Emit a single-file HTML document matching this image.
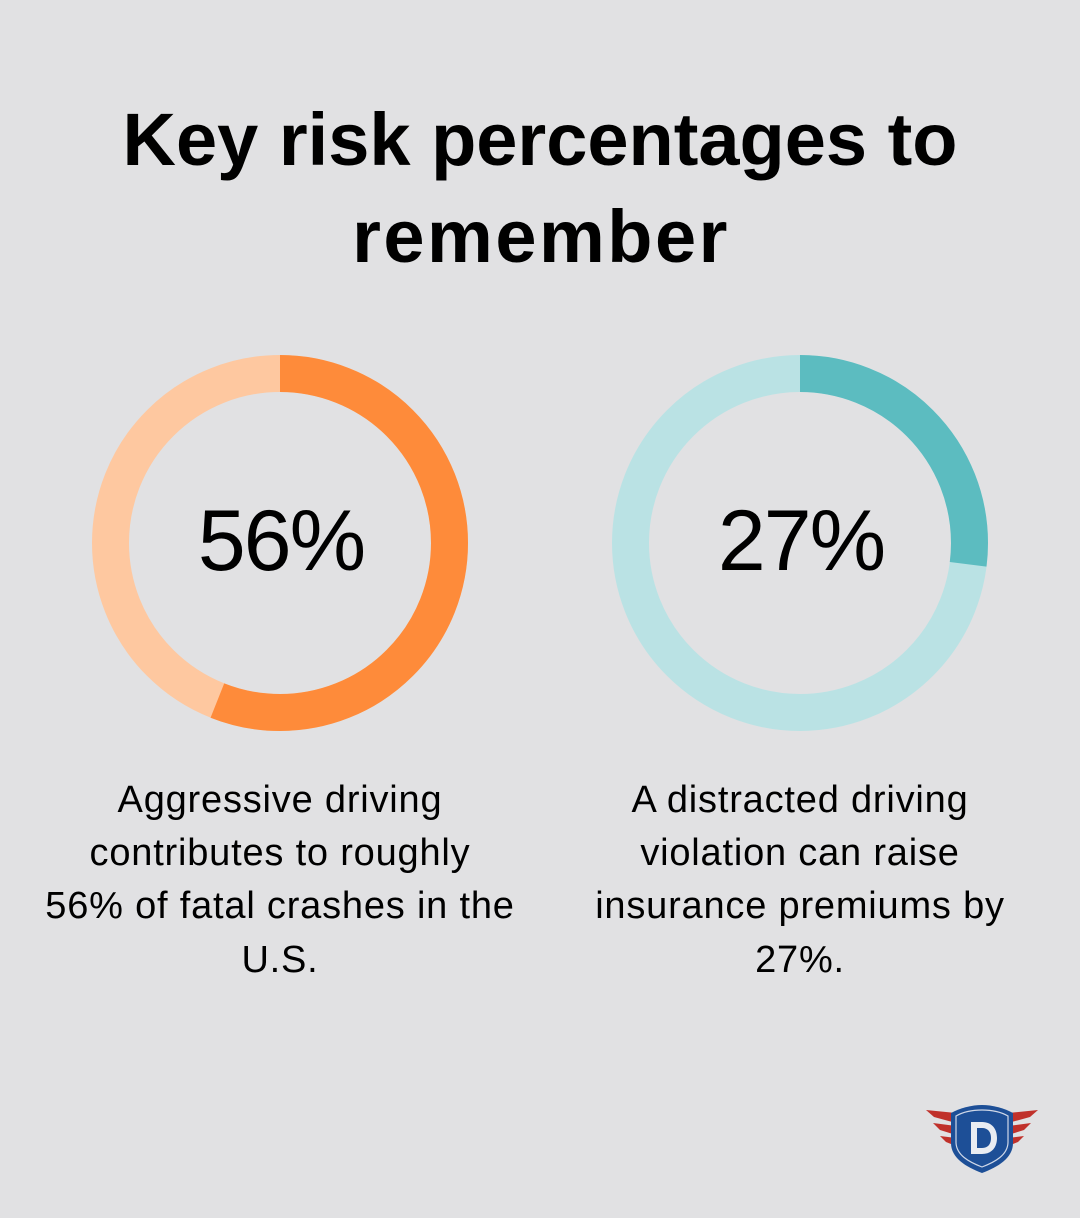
<!DOCTYPE html>
<html>
<head>
<meta charset="utf-8">
<style>
  html, body { margin:0; padding:0; background:#e1e1e3; }
  body { width:1080px; height:1218px; overflow:hidden; }
  svg { display:block; }
  .t { font-family:"Liberation Sans", sans-serif; fill:#000; }
</style>
</head>
<body>
<svg width="1080" height="1218" viewBox="0 0 1080 1218" xmlns="http://www.w3.org/2000/svg">
  <rect x="0" y="0" width="1080" height="1218" fill="#e1e1e3"/>

  <!-- Title -->
  <text class="t" x="540" y="165" text-anchor="middle" font-size="74" font-weight="bold">Key risk percentages to</text>
  <text class="t" x="541" y="262" text-anchor="middle" font-size="74" font-weight="bold" letter-spacing="2.5">remember</text>

  <!-- Donut 1 -->
  <g transform="translate(280,543) rotate(-90)">
    <circle r="169.5" fill="none" stroke="#fec8a0" stroke-width="37"/>
    <circle r="169.5" fill="none" stroke="#fe8b3a" stroke-width="37" stroke-dasharray="596.4 2000"/>
  </g>
  <text class="t" x="281" y="570" text-anchor="middle" font-size="86" letter-spacing="-2">56%</text>

  <!-- Donut 2 -->
  <g transform="translate(800,543) rotate(-90)">
    <circle r="169.5" fill="none" stroke="#bae2e4" stroke-width="37"/>
    <circle r="169.5" fill="none" stroke="#5cbcc0" stroke-width="37" stroke-dasharray="287.6 2000"/>
  </g>
  <text class="t" x="801" y="570" text-anchor="middle" font-size="86" letter-spacing="-2">27%</text>

  <!-- Left body text -->
  <g font-size="38" letter-spacing="0.8" text-anchor="middle">
    <text class="t" x="280" y="812" fill="#1a1a1a">Aggressive driving</text>
    <text class="t" x="280" y="865" fill="#1a1a1a">contributes to roughly</text>
    <text class="t" x="280" y="918" fill="#1a1a1a">56% of fatal crashes in the</text>
    <text class="t" x="280" y="972" fill="#1a1a1a">U.S.</text>
  </g>

  <!-- Right body text -->
  <g font-size="38" letter-spacing="0.8" text-anchor="middle">
    <text class="t" x="800" y="812" fill="#1a1a1a">A distracted driving</text>
    <text class="t" x="800" y="865" fill="#1a1a1a">violation can raise</text>
    <text class="t" x="800" y="918" fill="#1a1a1a">insurance premiums by</text>
    <text class="t" x="800" y="972" fill="#1a1a1a">27%.</text>
  </g>

  <!-- Logo -->
  <g>
    <!-- left wings -->
    <path d="M926,1110 L956,1113 L956,1123 L934,1117 Z" fill="#c0312b"/>
    <path d="M933,1123 L956,1126 L956,1135 L940,1130 Z" fill="#c0312b"/>
    <path d="M940,1136 L956,1138 L956,1146 L946,1142 Z" fill="#c0312b"/>
    <!-- right wings -->
    <path d="M1038,1110 L1008,1113 L1008,1123 L1030,1117 Z" fill="#c0312b"/>
    <path d="M1031,1123 L1008,1126 L1008,1135 L1024,1130 Z" fill="#c0312b"/>
    <path d="M1024,1136 L1008,1138 L1008,1146 L1018,1142 Z" fill="#c0312b"/>
    <!-- shield -->
    <path d="M982,1105 C992,1105 1004,1108 1013,1113 L1013,1143 C1013,1158 998,1167 982,1173 C966,1167 951,1158 951,1143 L951,1113 C960,1108 972,1105 982,1105 Z" fill="#1d4f97"/>
    <path d="M982,1110 C991,1110 1001,1112 1008,1116 L1008,1142 C1008,1155 995,1162 982,1167 C969,1162 956,1155 956,1142 L956,1116 C963,1112 973,1110 982,1110 Z" fill="none" stroke="#cfd8e8" stroke-width="1.2"/>
    <!-- D -->
    <path d="M971,1122 L982,1122 C992,1122 997,1129 997,1138 C997,1147 992,1154 982,1154 L971,1154 Z M977,1128 L977,1148 L982,1148 C988,1148 991,1144 991,1138 C991,1132 988,1128 982,1128 Z" fill="#e8ecf2" fill-rule="evenodd"/>
  </g>
</svg>
</body>
</html>
